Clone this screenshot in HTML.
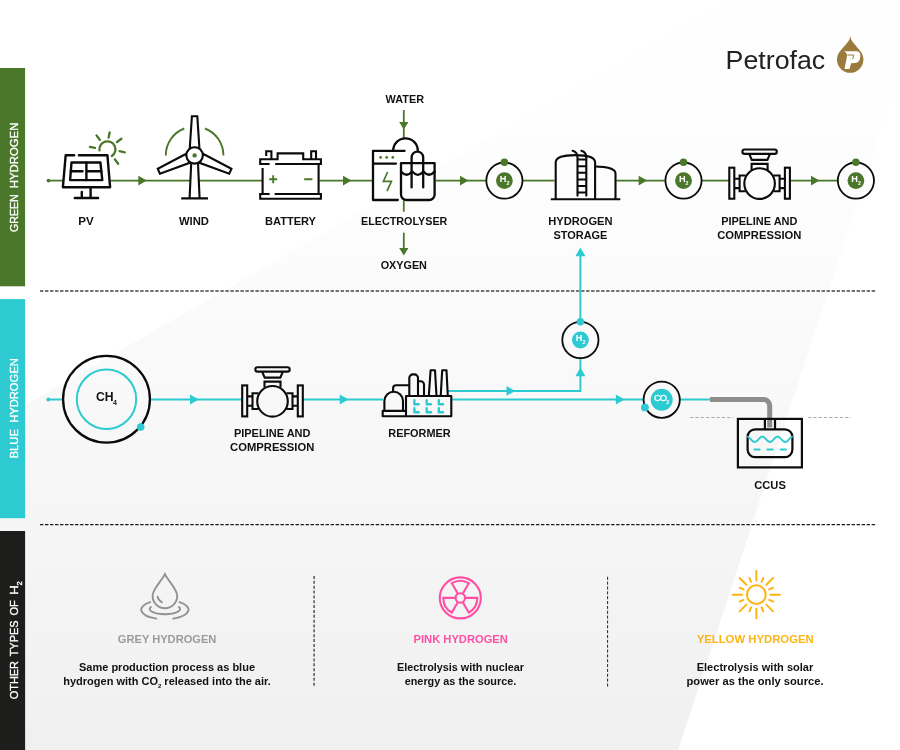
<!DOCTYPE html>
<html><head><meta charset="utf-8"><title>Hydrogen types</title>
<style>
html,body{margin:0;padding:0;background:#fff;}
body{width:900px;height:750px;overflow:hidden;font-family:"Liberation Sans",sans-serif;}
svg{display:block;font-family:"Liberation Sans",sans-serif;will-change:transform;}
</style></head><body>
<svg width="900" height="750" viewBox="0 0 900 750">
<defs>
<linearGradient id="bg" x1="0" y1="138.5" x2="0" y2="750" gradientUnits="userSpaceOnUse">
<stop offset="0" stop-color="#fdfdfd"/>
<stop offset="0.18" stop-color="#fcfcfc"/>
<stop offset="1" stop-color="#f0f0f0"/>
</linearGradient>
</defs>
<rect width="900" height="750" fill="#fff"/>
<polygon points="488.7,138.5 729.6,0 900,0 900,72 878.2,138.5" fill="#fefefe"/>
<polygon points="0,419.5 488.7,138.5 878.2,138.5 678.2,750 0,750" fill="url(#bg)"/>

<rect x="0" y="68" width="25.1" height="218.3" fill="#4a7729"/>
<rect x="0" y="299.1" width="25.1" height="219.1" fill="#2dcad2"/>
<rect x="0" y="531" width="25.1" height="219" fill="#1d1d1b"/>
<text transform="translate(17.7,231.9) rotate(-90)" font-size="11.6" fill="#fff" stroke="#fff" stroke-width="0.35" textLength="37.6" lengthAdjust="spacingAndGlyphs">GREEN</text>
<text transform="translate(17.7,188.2) rotate(-90)" font-size="11.6" fill="#fff" stroke="#fff" stroke-width="0.35" textLength="65.6" lengthAdjust="spacingAndGlyphs">HYDROGEN</text>
<text transform="translate(17.7,458.6) rotate(-90)" font-size="11.6" fill="#fff" stroke="#fff" stroke-width="0.35" textLength="29.6" lengthAdjust="spacingAndGlyphs">BLUE</text>
<text transform="translate(17.7,422.8) rotate(-90)" font-size="11.6" fill="#fff" stroke="#fff" stroke-width="0.35" textLength="64.6" lengthAdjust="spacingAndGlyphs">HYDROGEN</text>
<text transform="translate(17.7,699.2) rotate(-90)" font-size="11.6" fill="#fff" stroke="#fff" stroke-width="0.35" textLength="38.2" lengthAdjust="spacingAndGlyphs">OTHER</text>
<text transform="translate(17.7,656.3) rotate(-90)" font-size="11.6" fill="#fff" stroke="#fff" stroke-width="0.35" textLength="35.8" lengthAdjust="spacingAndGlyphs">TYPES</text>
<text transform="translate(17.7,615.6) rotate(-90)" font-size="11.6" fill="#fff" stroke="#fff" stroke-width="0.35" textLength="15.4" lengthAdjust="spacingAndGlyphs">OF</text>
<text transform="translate(17.7,594.8) rotate(-90)" font-size="11.6" fill="#fff" stroke="#fff" stroke-width="0.35" textLength="9.6" lengthAdjust="spacingAndGlyphs">H</text>
<text transform="translate(21.9,585.4) rotate(-90)" font-size="7" fill="#fff" stroke="#fff" stroke-width="0.35" textLength="4.2" lengthAdjust="spacingAndGlyphs">2</text>
<line x1="40" y1="291" x2="875.4" y2="291" stroke="#727272" stroke-width="1.9" stroke-dasharray="3.4 1.61"/>
<line x1="40" y1="524.5" x2="875.4" y2="524.5" stroke="#1c1c1c" stroke-width="1.25" stroke-dasharray="3.4 1.61"/>
<line x1="314.1" y1="576" x2="314.1" y2="686" stroke="#555" stroke-width="1.5" stroke-dasharray="3 1.85"/>
<line x1="607.6" y1="576.8" x2="607.6" y2="687" stroke="#222" stroke-width="1" stroke-dasharray="3 1.85"/>
<text x="725.6" y="69.1" font-size="26.6" fill="#222" textLength="99.6" lengthAdjust="spacingAndGlyphs">Petrofac</text>
<g>
<path d="M850.3,35.8 C850.6,39 851.6,40.6 853.4,42.8 L860.2,51 A13.2,13.2 0 1 1 840.2,51 L847.2,42.8 C849,40.6 850,39 850.3,35.8 Z" fill="#9a7b3d"/>
<path d="M844.2,51.3 H856.2 C859.6,51.3 860.6,53.6 860.3,56.6 C860,60.6 858.4,62.9 855,63 L851.1,63.2 L849.5,69 H844.5 L847.2,55.2 C846.6,53.4 845.6,52.2 844.2,51.3 Z" fill="#fff"/>
<path d="M847.6,55 H853.9 L852.6,59.2" fill="none" stroke="#9a7b3d" stroke-width="1"/>
</g>
<line x1="48.5" y1="180.6" x2="63.5" y2="180.6" stroke="#4a7729" stroke-width="1.8" />
<line x1="110.5" y1="180.6" x2="190.5" y2="180.6" stroke="#4a7729" stroke-width="1.8" />
<line x1="199" y1="180.6" x2="262" y2="180.6" stroke="#4a7729" stroke-width="1.8" />
<line x1="319.5" y1="180.6" x2="372.5" y2="180.6" stroke="#4a7729" stroke-width="1.8" />
<line x1="436" y1="180.6" x2="485.8" y2="180.6" stroke="#4a7729" stroke-width="1.8" />
<line x1="523" y1="180.6" x2="554.5" y2="180.6" stroke="#4a7729" stroke-width="1.8" />
<line x1="616.3" y1="180.6" x2="664.8" y2="180.6" stroke="#4a7729" stroke-width="1.8" />
<line x1="702" y1="180.6" x2="729" y2="180.6" stroke="#4a7729" stroke-width="1.8" />
<line x1="790" y1="180.6" x2="837.3" y2="180.6" stroke="#4a7729" stroke-width="1.8" />
<circle cx="48.5" cy="180.6" r="1.9" fill="#4a7729"/>
<polygon points="146.8,180.6 138.3,175.79999999999998 138.3,185.4" fill="#4a7729"/>
<polygon points="351.5,180.6 343.0,175.79999999999998 343.0,185.4" fill="#4a7729"/>
<polygon points="468.5,180.6 460.0,175.79999999999998 460.0,185.4" fill="#4a7729"/>
<polygon points="647.1,180.6 638.6,175.79999999999998 638.6,185.4" fill="#4a7729"/>
<polygon points="819.5,180.6 811.0,175.79999999999998 811.0,185.4" fill="#4a7729"/>
<g fill="none" stroke="#0b0b0b" stroke-width="2.4" stroke-linejoin="round" stroke-linecap="round">
<path d="M74.2,155.2 H65.7 L62.9,187.2 H110.1 L107.4,155.2 H78.9"/>
<path d="M71.5,162.5 H100.4 L102.3,180.1 H70.1 Z"/>
<path d="M86.4,162.5 V180.1 M70.8,171.3 H82.5 M86.4,171.3 H101.3"/>
<path d="M90.6,187.2 V198 M81.8,192 V198 M74.8,198 H98.1" />
</g>
<g fill="none" stroke="#4a7729" stroke-width="2.3" stroke-linecap="round">
<path d="M99.46,150.27 A8.0,8.0 0 1 1 111.87,155.93"/>
<path d="M89.9,146.8 L95,147.9"/>
<path d="M96.5,135.4 L99.8,139.8"/>
<path d="M109.6,132.5 L108.6,137.6"/>
<path d="M121.4,138.8 L117,142"/>
<path d="M124.8,152.3 L119.6,151.1"/>
<path d="M118.2,163.7 L114.8,159.3"/>
</g>
<text x="86" y="225" font-size="11" font-weight="bold" fill="#111111" text-anchor="middle"  textLength="15.4" lengthAdjust="spacingAndGlyphs">PV</text>
<g fill="none" stroke="#0b0b0b" stroke-width="2.1" stroke-linejoin="miter">
<path d="M191.2,163.4 L189.6,198.2 M198.0,163.4 L199.6,198.2 M181.2,198.4 H208"/>
<path d="M191.9,116.30000000000001 H197.29999999999998 L199.4,147.9 H189.79999999999998 Z" transform="rotate(0 194.6 155.4)"/>
<path d="M191.9,116.30000000000001 H197.29999999999998 L199.4,147.9 H189.79999999999998 Z" transform="rotate(114 194.6 155.4)"/>
<path d="M191.9,116.30000000000001 H197.29999999999998 L199.4,147.9 H189.79999999999998 Z" transform="rotate(246 194.6 155.4)"/>
<circle cx="194.6" cy="155.4" r="8.2" fill="#fff"/>
</g>
<circle cx="194.6" cy="155.4" r="2.2" fill="#4a7729"/>
<g fill="none" stroke="#4a7729" stroke-width="1.9"><path d="M165.80,155.40 A28.8,28.8 0 0 1 184.28,128.51"/><path d="M204.92,128.51 A28.8,28.8 0 0 1 223.40,155.40"/></g>
<text x="194" y="225" font-size="11" font-weight="bold" fill="#111111" text-anchor="middle"  textLength="30" lengthAdjust="spacingAndGlyphs">WIND</text>
<g fill="none" stroke="#0b0b0b" stroke-width="2.1" stroke-linejoin="miter">
<path d="M269.6,164 H260.2 V159.2 H277.6 V153.4 H303.2 V159.2 H320.9 V164 H275.2"/>
<path d="M266.2,156 V151.2 H271.4 V159.2 M311.2,159.2 V151.2 H316 V159.2"/>
<path d="M262.6,168 V194 M318.6,164 V194"/>
<path d="M269.6,194 H260.2 V198.8 H320.9 V194 H274.6"/>
</g>
<g stroke="#4a7729" stroke-width="1.9" fill="none"><path d="M269.2,179.3 H277.2 M273.2,175.3 V183.3 M304.2,179.3 H312.4"/></g>
<text x="290.5" y="225" font-size="11" font-weight="bold" fill="#111111" text-anchor="middle"  textLength="51" lengthAdjust="spacingAndGlyphs">BATTERY</text>
<line x1="403.8" y1="110" x2="403.8" y2="138.3" stroke="#4a7729" stroke-width="1.8" />
<polygon points="403.8,129.5 399.2,122.0 408.40000000000003,122.0" fill="#4a7729"/>
<line x1="403.8" y1="200.5" x2="403.8" y2="211.7" stroke="#4a7729" stroke-width="1.8" />
<line x1="403.8" y1="232.7" x2="403.8" y2="250" stroke="#4a7729" stroke-width="1.8" />
<polygon points="403.8,255.4 399.2,247.9 408.40000000000003,247.9" fill="#4a7729"/>
<g fill="none" stroke="#0b0b0b" stroke-width="2.3" stroke-linejoin="round" stroke-linecap="round">
<path d="M404.6,150.8 H373 V200 H397.8 M373,163.6 H396"/>
<path d="M393.2,150.6 A12.3,12.3 0 0 1 417.8,150.6"/>
<path d="M401,163.2 H434.6 V194.6 A5.4,5.4 0 0 1 429.2,200 H406.4 A5.4,5.4 0 0 1 401,194.6 Z"/>
<path d="M411.6,187.4 V157.4 A5.8,5.8 0 0 1 423.2,157.4 V187.4"/>
<path d="M401,171.4 Q406.6,178 412.2,171.6 Q417.8,178 423.4,171.6 Q429,178 434.6,171.4"/>
</g>
<g fill="#4a7729"><circle cx="380.6" cy="157.4" r="1.4"/><circle cx="386.7" cy="157.4" r="1.4"/><circle cx="392.8" cy="157.4" r="1.4"/></g>
<path d="M387.6,172 L383.4,181.4 H391.4 L387,191.2" fill="none" stroke="#4a7729" stroke-width="1.7"/>
<text x="404.8" y="102.8" font-size="11" font-weight="bold" fill="#111111" text-anchor="middle"  textLength="38.4" lengthAdjust="spacingAndGlyphs">WATER</text>
<text x="404.2" y="225" font-size="11" font-weight="bold" fill="#111111" text-anchor="middle"  textLength="86.3" lengthAdjust="spacingAndGlyphs">ELECTROLYSER</text>
<text x="403.8" y="268.8" font-size="11" font-weight="bold" fill="#111111" text-anchor="middle"  textLength="46.3" lengthAdjust="spacingAndGlyphs">OXYGEN</text>
<circle cx="504.4" cy="180.6" r="18.1" fill="none" stroke="#0b0b0b" stroke-width="1.8"/><circle cx="504.4" cy="180.6" r="8.4" fill="#4a7729"/><circle cx="504.40" cy="162.30" r="3.8" fill="#4a7729"/>
<text x="503.09999999999997" y="181.9" font-size="9.2" font-weight="bold" fill="#fff" text-anchor="middle">H</text><text x="508.0" y="184.9" font-size="5.4" font-weight="bold" fill="#fff" text-anchor="middle">2</text>
<circle cx="683.5" cy="180.6" r="18.1" fill="none" stroke="#0b0b0b" stroke-width="1.8"/><circle cx="683.5" cy="180.6" r="8.4" fill="#4a7729"/><circle cx="683.50" cy="162.30" r="3.8" fill="#4a7729"/>
<text x="682.2" y="181.9" font-size="9.2" font-weight="bold" fill="#fff" text-anchor="middle">H</text><text x="687.1" y="184.9" font-size="5.4" font-weight="bold" fill="#fff" text-anchor="middle">2</text>
<circle cx="855.9" cy="180.6" r="18.1" fill="none" stroke="#0b0b0b" stroke-width="1.8"/><circle cx="855.9" cy="180.6" r="8.4" fill="#4a7729"/><circle cx="855.90" cy="162.30" r="3.8" fill="#4a7729"/>
<text x="854.6" y="181.9" font-size="9.2" font-weight="bold" fill="#fff" text-anchor="middle">H</text><text x="859.5" y="184.9" font-size="5.4" font-weight="bold" fill="#fff" text-anchor="middle">2</text>
<g fill="none" stroke="#0b0b0b" stroke-width="2.1" stroke-linejoin="round">
<path d="M550.8,199.2 H620.3"/>
<path d="M555.7,199.2 V162.5 C555.7,157.2 562,155.1 575.4,155.1 C588.6,155.1 595.1,157.2 595.1,162.5 V199.2"/>
<path d="M595.1,166.5 C607,166.5 615.5,169 615.5,173.5 V199.2"/>
<path d="M577.5,195.6 V157.5 C577.5,153.5 575.5,151.6 572.6,150.8 M586.3,195.6 V157.5 C586.3,153.5 584.3,151.6 581.4,150.8" stroke-linecap="round"/>
<path d="M577.5,159.6 H586.3 M577.5,166.2 H586.3 M577.5,172.8 H586.3 M577.5,179.4 H586.3 M577.5,186 H586.3 M577.5,192.5 H586.3" stroke-width="2"/>
</g>
<text x="580.4" y="225" font-size="11" font-weight="bold" fill="#111111" text-anchor="middle"  textLength="64.3" lengthAdjust="spacingAndGlyphs">HYDROGEN</text><text x="580.4" y="239" font-size="11" font-weight="bold" fill="#111111" text-anchor="middle"  textLength="54" lengthAdjust="spacingAndGlyphs">STORAGE</text>
<g transform="translate(759.6,182.9)" fill="none" stroke="#0b0b0b" stroke-width="2.1" stroke-linejoin="miter">
<rect x="-17.2" y="-33.4" width="34.4" height="4.4" rx="2.2"/>
<path d="M-10.4,-29 L-7.8,-23 H7.8 L10.4,-29"/>
<path d="M-8,-13 V-19 H8 V-13"/>
<rect x="-30.3" y="-15.2" width="5" height="31"/>
<rect x="25.3" y="-15.2" width="5" height="31"/>
<path d="M-25.3,-4.2 H-20 M-25.3,5.2 H-20 M25.3,-4.2 H20 M25.3,5.2 H20"/>
<path d="M-14,-7.4 H-20 V8.4 H-14 M14,-7.4 H20 V8.4 H14"/>
<circle cx="0" cy="0.7" r="15.3" fill="none"/>
</g>
<text x="759.3" y="225" font-size="11" font-weight="bold" fill="#111111" text-anchor="middle"  textLength="76.3" lengthAdjust="spacingAndGlyphs">PIPELINE AND</text><text x="759.3" y="239" font-size="11" font-weight="bold" fill="#111111" text-anchor="middle"  textLength="84.2" lengthAdjust="spacingAndGlyphs">COMPRESSION</text>
<line x1="48.3" y1="399.5" x2="62.2" y2="399.5" stroke="#2dcad2" stroke-width="2.0" />
<line x1="150.8" y1="399.5" x2="241" y2="399.5" stroke="#2dcad2" stroke-width="2.0" />
<line x1="303" y1="399.5" x2="383" y2="399.5" stroke="#2dcad2" stroke-width="2.0" />
<line x1="452.3" y1="399.5" x2="643.4" y2="399.5" stroke="#2dcad2" stroke-width="2.0" />
<line x1="680" y1="399.5" x2="711" y2="399.5" stroke="#2dcad2" stroke-width="2.0" />
<circle cx="48.3" cy="399.5" r="1.9" fill="#2dcad2"/>
<polygon points="198.8,399.5 190.0,394.6 190.0,404.4" fill="#2dcad2"/>
<polygon points="348.5,399.5 339.7,394.6 339.7,404.4" fill="#2dcad2"/>
<polygon points="624.6,399.5 615.8000000000001,394.6 615.8000000000001,404.4" fill="#2dcad2"/>
<path d="M448,390.9 H580.4 V358.5" fill="none" stroke="#2dcad2" stroke-width="2.0"/>
<polygon points="515.3,390.9 506.49999999999994,386.0 506.49999999999994,395.79999999999995" fill="#2dcad2"/>
<polygon points="580.4,367.6 575.4,376.20000000000005 585.4,376.20000000000005" fill="#2dcad2"/>
<line x1="580.4" y1="322" x2="580.4" y2="250" stroke="#2dcad2" stroke-width="2.0" />
<polygon points="580.4,247.6 575.4,256.2 585.4,256.2" fill="#2dcad2"/>
<circle cx="106.5" cy="399.2" r="43.4" fill="none" stroke="#0b0b0b" stroke-width="2.3"/>
<circle cx="106.5" cy="399.2" r="29.7" fill="none" stroke="#2dcad2" stroke-width="2.0"/>
<circle cx="140.7" cy="427.1" r="3.8" fill="#2dcad2"/>
<text x="104.8" y="400.8" font-size="12.2" font-weight="bold" fill="#111111" text-anchor="middle">CH</text>
<text x="115" y="405" font-size="7" font-weight="bold" fill="#111111" text-anchor="middle">4</text>
<g transform="translate(272.5,400.6)" fill="none" stroke="#0b0b0b" stroke-width="2.1" stroke-linejoin="miter">
<rect x="-17.2" y="-33.4" width="34.4" height="4.4" rx="2.2"/>
<path d="M-10.4,-29 L-7.8,-23 H7.8 L10.4,-29"/>
<path d="M-8,-13 V-19 H8 V-13"/>
<rect x="-30.3" y="-15.2" width="5" height="31"/>
<rect x="25.3" y="-15.2" width="5" height="31"/>
<path d="M-25.3,-4.2 H-20 M-25.3,5.2 H-20 M25.3,-4.2 H20 M25.3,5.2 H20"/>
<path d="M-14,-7.4 H-20 V8.4 H-14 M14,-7.4 H20 V8.4 H14"/>
<circle cx="0" cy="0.7" r="15.3" fill="none"/>
</g>
<text x="272.2" y="437.2" font-size="11" font-weight="bold" fill="#111111" text-anchor="middle"  textLength="76.6" lengthAdjust="spacingAndGlyphs">PIPELINE AND</text><text x="272.2" y="451.2" font-size="11" font-weight="bold" fill="#111111" text-anchor="middle"  textLength="84.3" lengthAdjust="spacingAndGlyphs">COMPRESSION</text>
<g fill="none" stroke="#0b0b0b" stroke-width="2.1" stroke-linejoin="round">
<rect x="406" y="396" width="45.3" height="20.3"/>
<path d="M406,410.9 H382.7 V416.3 H406"/>
<path d="M384.4,410.9 V401 A9.3,9.3 0 0 1 403,401 V410.9"/>
<path d="M393.1,391.6 V388.3 A3,3 0 0 1 396.1,385.3 H409.3"/>
<path d="M409.3,396 V378 A3.6,3.6 0 0 1 412.9,374.4 H414.4 A3.6,3.6 0 0 1 418,378 V396"/>
<path d="M418,381.2 H420.6 A3.4,3.4 0 0 1 424,384.6 V396"/>
<path d="M428.8,396 L430.6,370.2 H435 L436.5,396 M440.7,396 L442.2,370.2 H446.5 L447.8,396"/>
</g>
<g fill="none" stroke="#2dcad2" stroke-width="2.4" stroke-linecap="round" stroke-linejoin="round">
<path d="M414.4,400.2 V404.2 H418.7"/>
<path d="M414.4,408.2 V412.2 H418.7"/>
<path d="M426.7,400.2 V404.2 H431.0"/>
<path d="M426.7,408.2 V412.2 H431.0"/>
<path d="M438.79999999999995,400.2 V404.2 H443.09999999999997"/>
<path d="M438.79999999999995,408.2 V412.2 H443.09999999999997"/>
</g>
<text x="419.5" y="437.2" font-size="11" font-weight="bold" fill="#111111" text-anchor="middle"  textLength="62.4" lengthAdjust="spacingAndGlyphs">REFORMER</text>
<circle cx="580.4" cy="340" r="18.1" fill="none" stroke="#0b0b0b" stroke-width="1.8"/><circle cx="580.4" cy="340" r="8.4" fill="#2dcad2"/><circle cx="580.40" cy="321.70" r="3.8" fill="#2dcad2"/>
<text x="579.1" y="341.3" font-size="9.2" font-weight="bold" fill="#fff" text-anchor="middle">H</text><text x="584.0" y="344.3" font-size="5.4" font-weight="bold" fill="#fff" text-anchor="middle">2</text>
<circle cx="661.7" cy="399.7" r="18.1" fill="none" stroke="#0b0b0b" stroke-width="1.8"/>
<circle cx="661.7" cy="399.7" r="11" fill="#2dcad2"/>
<circle cx="644.9" cy="407.4" r="3.9" fill="#2dcad2"/>
<text x="660.1" y="401.2" font-size="9.4" fill="#fff" stroke="#fff" stroke-width="0.3" text-anchor="middle" letter-spacing="-0.9">CO</text>
<text x="667.7" y="403.9" font-size="5.4" font-weight="bold" fill="#fff" text-anchor="middle">2</text>
<path d="M710,399.6 H763.7 A6,6 0 0 1 769.7,405.6 V427.4" fill="none" stroke="#8e8e8c" stroke-width="5"/>
<line x1="690" y1="417.5" x2="733" y2="417.5" stroke="#999" stroke-width="0.8" stroke-dasharray="3.4 1.9"/>
<line x1="808" y1="417.5" x2="851" y2="417.5" stroke="#999" stroke-width="0.8" stroke-dasharray="3.4 1.9"/>
<g fill="none" stroke="#0b0b0b" stroke-width="2.2">
<rect x="737.9" y="418.9" width="64" height="48.5"/>
<rect x="747.6" y="429.4" width="44.8" height="27.7" rx="7.5"/>
<path d="M764.9,418.9 V429.4 M775,418.9 V429.4"/>
</g>
<path transform="translate(0,-0.4)" d="M748.0,437.22 L749.0,437.86 L750.0,438.80 L751.0,439.89 L752.0,440.95 L753.0,441.80 L754.0,442.30 L755.0,442.37 L756.0,442.00 L757.0,441.24 L758.0,440.22 L759.0,439.12 L760.0,438.12 L761.0,437.38 L762.0,437.02 L763.0,437.11 L764.0,437.63 L765.0,438.50 L766.0,439.56 L767.0,440.65 L768.0,441.58 L769.0,442.20 L770.0,442.40 L771.0,442.15 L772.0,441.50 L773.0,440.54 L774.0,439.45 L775.0,438.40 L776.0,437.56 L777.0,437.08 L778.0,437.04 L779.0,437.43 L780.0,438.21 L781.0,439.23 L782.0,440.33 L783.0,441.33 L784.0,442.05 L785.0,442.39 L786.0,442.27 L787.0,441.73 L788.0,440.85 L789.0,439.78 L790.0,438.70 L791.0,437.78 L792.0,437.18" fill="none" stroke="#2dcad2" stroke-width="1.9" stroke-linejoin="round" stroke-linecap="round"/>
<path d="M754.4,449.6 H759.6 M767.4,449.6 H772.8 M780.6,449.6 H785.8" stroke="#2dcad2" stroke-width="2" stroke-linecap="round"/>
<text x="770" y="489" font-size="11" font-weight="bold" fill="#111111" text-anchor="middle"  textLength="31.7" lengthAdjust="spacingAndGlyphs">CCUS</text>
<g fill="none" stroke="#929292" stroke-width="1.9" stroke-linecap="round">
<path d="M164.9,574.2 C161,582 152.6,588.6 152.6,596 A12.3,12.3 0 0 0 177.2,596 C177.2,588.6 168.8,582 164.9,574.2 Z"/>
<path d="M157.6,596.6 C158,599 159.6,601 161.9,602.3"/>
<path d="M150.9,607 A15.2,5.2 0 1 0 178.9,607"/>
<path d="M150.2,602.2 A24,9.6 0 0 0 156.4,618.6 M179.6,602.2 A24,9.6 0 0 1 173.2,618.6"/>
</g>
<text x="167.1" y="642.9" font-size="11" font-weight="bold" fill="#9b9b9b" text-anchor="middle"  textLength="98.5" lengthAdjust="spacingAndGlyphs">GREY HYDROGEN</text>
<text x="167" y="671.3" font-size="11" font-weight="bold" fill="#111111" text-anchor="middle" >Same production process as blue</text>
<text x="167" y="685.4" font-size="11" font-weight="bold" fill="#111111" text-anchor="middle">hydrogen with CO<tspan font-size="6" dy="2.6">2</tspan><tspan dy="-2.6"> released into the air.</tspan></text>
<g fill="none" stroke="#ff4fa4" stroke-width="2.1" stroke-linejoin="miter">
<circle cx="460.3" cy="597.9" r="20.5"/>
<circle cx="460.3" cy="597.9" r="4.7"/>
<path d="M457.80,593.57 L451.80,583.18 A17,17 0 0 1 468.80,583.18 L462.80,593.57"/>
<path d="M465.30,597.90 L477.30,597.90 A17,17 0 0 1 468.80,612.62 L462.80,602.23"/>
<path d="M457.80,602.23 L451.80,612.62 A17,17 0 0 1 443.30,597.90 L455.30,597.90"/>
</g>
<text x="460.7" y="642.9" font-size="11" font-weight="bold" fill="#ff4fa4" text-anchor="middle"  textLength="94.3" lengthAdjust="spacingAndGlyphs">PINK HYDROGEN</text>
<text x="460.5" y="671.3" font-size="11" font-weight="bold" fill="#111111" text-anchor="middle"  textLength="126.8" lengthAdjust="spacingAndGlyphs">Electrolysis with nuclear</text><text x="460.5" y="685.0999999999999" font-size="11" font-weight="bold" fill="#111111" text-anchor="middle"  textLength="111.6" lengthAdjust="spacingAndGlyphs">energy as the source.</text>
<g fill="none" stroke="#fdb515" stroke-width="2" stroke-linecap="round">
<circle cx="756.35" cy="594.65" r="9.4"/>
<path d="M770.45,594.65 L779.95,594.65"/>
<path d="M769.10,599.93 L772.98,601.54"/>
<path d="M766.32,604.62 L773.04,611.34"/>
<path d="M761.63,607.40 L763.24,611.28"/>
<path d="M756.35,608.75 L756.35,618.25"/>
<path d="M751.07,607.40 L749.46,611.28"/>
<path d="M746.38,604.62 L739.66,611.34"/>
<path d="M743.60,599.93 L739.72,601.54"/>
<path d="M742.25,594.65 L732.75,594.65"/>
<path d="M743.60,589.37 L739.72,587.76"/>
<path d="M746.38,584.68 L739.66,577.96"/>
<path d="M751.07,581.90 L749.46,578.02"/>
<path d="M756.35,580.55 L756.35,571.05"/>
<path d="M761.63,581.90 L763.24,578.02"/>
<path d="M766.32,584.68 L773.04,577.96"/>
<path d="M769.10,589.37 L772.98,587.76"/>
</g>
<text x="755.2" y="643.3" font-size="11" font-weight="bold" fill="#fdb515" text-anchor="middle"  textLength="117.1" lengthAdjust="spacingAndGlyphs">YELLOW HYDROGEN</text>
<text x="755" y="671.3" font-size="11" font-weight="bold" fill="#111111" text-anchor="middle"  textLength="116.6" lengthAdjust="spacingAndGlyphs">Electrolysis with solar</text><text x="755" y="685.0999999999999" font-size="11" font-weight="bold" fill="#111111" text-anchor="middle"  textLength="137" lengthAdjust="spacingAndGlyphs">power as the only source.</text>
</svg></body></html>
